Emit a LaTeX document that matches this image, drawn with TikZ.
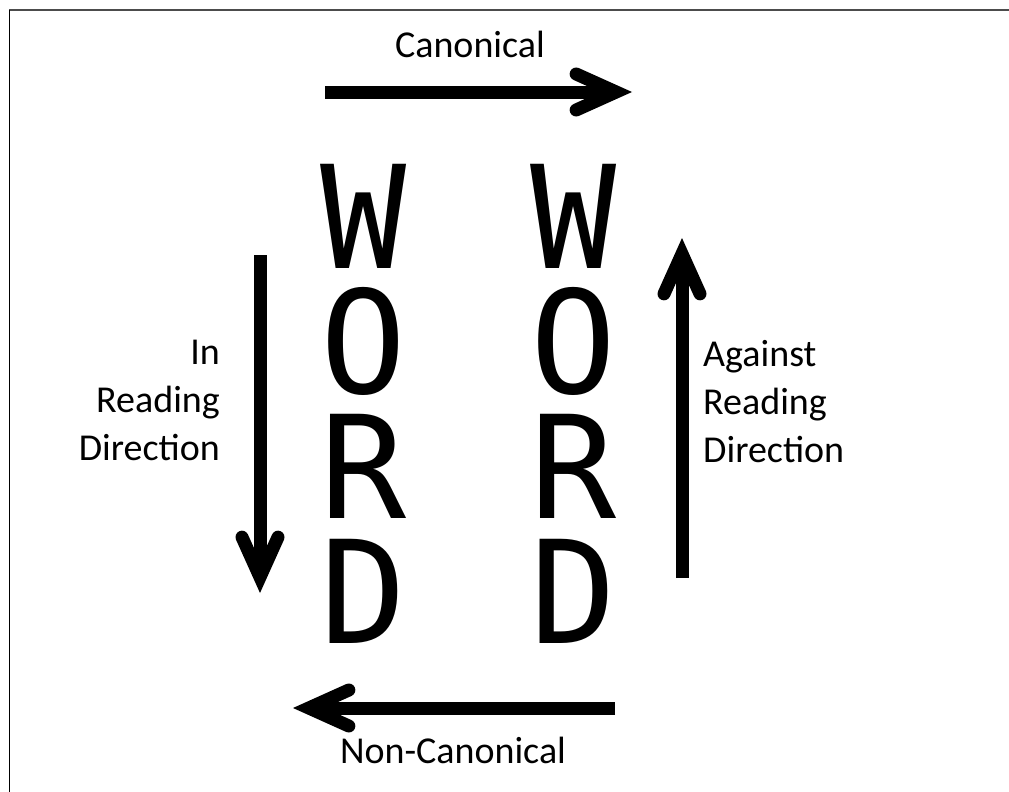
\documentclass[tikz,border=0pt]{standalone}
\usepackage{fontspec}
\setmainfont{Carlito}
\newfontfamily\bigfont{DejaVu Sans Mono}
\usetikzlibrary{arrows.meta}

\begin{document}
\begin{tikzpicture}[x=1pt, y=-1pt,
  >={Straight Barb[length=40pt, width=36pt, line cap=round, line join=miter]},
  arr/.style={->, line width=13pt},
  lbl/.style={inner sep=0pt, font=\fontsize{38}{48}\selectfont},
  letter/.style={inner sep=0pt, anchor=base, text height=105pt, text depth=2pt,
    font=\bigfont\fontsize{143}{143}\selectfont}]
  \def\xl{364}\def\xr{574}\def\pitch{125}
  \useasboundingbox (0,0) rectangle (1009,792);
  \draw[line width=2pt, black!70] (9,10)--(1009,10);
  \draw[line width=0.8pt] (9,10)--(9,792);
  % the two columns of letters
  \foreach \c [count=\i] in {W,O,R,D} {
    \node[letter] (l\c) at (\xl,143+\pitch*\i) {\c};
    \node[letter] (r\c) at (\xr,143+\pitch*\i) {\c};
  }
  % arrow ends
  \coordinate (topS) at (325,92);  \coordinate (topE) at (632,92);
  \coordinate (botS) at (615,708); \coordinate (botE) at (293,708);
  \coordinate (inS) at (260,255);  \coordinate (inE) at (260,593);
  \coordinate (agS) at (682,578);  \coordinate (agE) at (682,238);
  \draw[arr] (topS)--(topE);
  \draw[arr] (botS)--(botE);
  \draw[arr] (inS)--(inE);
  \draw[arr] (agS)--(agE);
  % labels
  \node[lbl, anchor=base] (canon) at (470,58) {Canonical};
  \node[lbl, anchor=base] (noncanon) at (453,763) {Non-Canonical};
  \node[lbl, anchor=base east, align=right] (inread) at (220,460) {In\\Reading\\Direction};
  \node[lbl, anchor=base west, align=left] (against) at (703,462) {Against\\Reading\\Direction};
\end{tikzpicture}
\end{document}
